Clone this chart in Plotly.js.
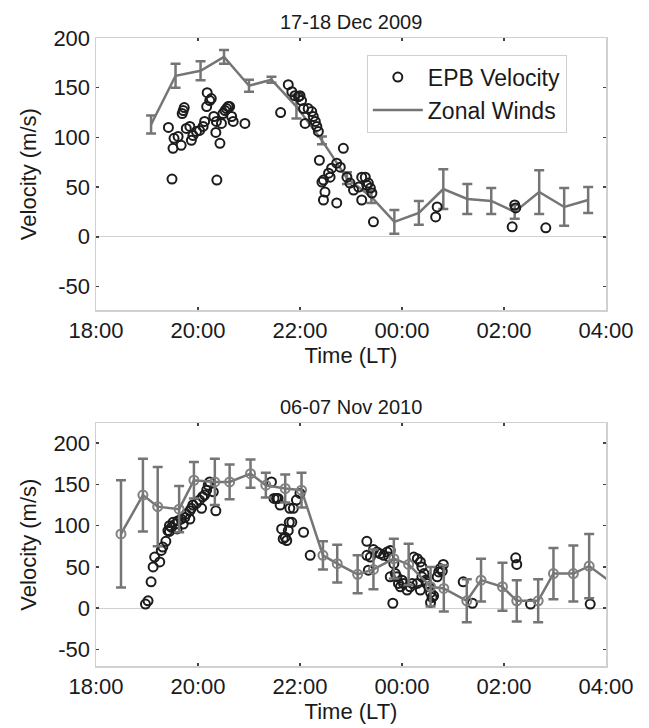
<!DOCTYPE html>
<html><head><meta charset="utf-8">
<script src="https://cdn.plot.ly/plotly-3.0.1.min.js"></script>
<style>html,body{margin:0;padding:0;background:#fff}#chart{width:649px;height:728px}</style>
</head><body><div id="chart"></div>
<script>
// Time in hours (24 = 00:00 next day)
const timeTickVals = [18, 20, 22, 24, 26, 28];
const timeTickText = ["18:00", "20:00", "22:00", "00:00", "02:00", "04:00"];
const velTickVals = [-50, 0, 50, 100, 150, 200];
const velTickText = ["-50", "0", "50", "100", "150", "200"];

// Panel 1: 17-18 Dec 2009
const windT1 = [19.08,19.56,20.05,20.51,21.00,21.44,21.93,22.43,22.92,23.40,23.85,24.33,24.81,25.28,25.75,26.21,26.69,27.18,27.65];
const windV1 = [113,162,167,181,152,158,131,97,59,40,15,24,48,38,36,25,45,30,37];
const windE1 = [9,12,9.5,7,6,3,12,4,6,6,12,12,20,15,13,7,22,19,13];

const epbT1 = [19.42,19.53,19.61,19.51,19.67,19.71,19.73,19.69,19.77,19.84,19.87,19.90,19.97,20.03,20.10,20.13,20.17,20.18,20.23,20.26,20.31,20.35,20.43,20.36,20.46,20.49,20.53,20.56,20.59,20.62,20.66,20.69,20.92,19.49,20.37,21.62,21.77,21.84,21.90,21.97,22.00,22.03,22.07,22.10,22.16,22.23,22.26,22.30,22.33,22.36,22.38,22.85,22.72,22.62,22.56,22.46,22.43,22.49,22.46,22.72,22.92,22.98,23.05,23.15,23.21,23.28,23.34,23.38,23.41,23.21,23.44,22.79,22.59,24.69,24.66,23.31,26.21,26.23,26.16,26.82];
const epbV1 = [110,99,101,89,92,127,130,124,109,111,97,102,106,107,111,116,131,145,137,139,121,105,94,116,114,124,127,129,131,131,121,116,114,58,57,125,153,146,142,141,142,137,129,114,129,126,121,116,111,106,77,89,74,69,64,57,55,45,37,34,60,54,47,50,60,60,54,49,44,37,15,70,60,30,20,52,32,29,10,9];

// Panel 2: 06-07 Nov 2010
const windT2 = [18.49,18.92,19.21,19.63,19.92,20.33,20.62,21.03,21.33,21.71,22.03,22.45,22.73,23.13,23.44,23.84,24.13,24.56,24.82,25.27,25.55,25.97,26.25,26.67,26.97,27.36,27.67,28.20];
const windV2 = [90,137,123,120,155,153,153,163,149,145,143,64,54,41,47,60,53,26,24,9,34,26,9,9,42,42,51,27];
const windE2 = [65,44,48,28,22,28,21,17,15,17,21,17,23,23,24,24,25,24,28,26,26,29,25,26,31,34,39,30];

const epbT2 = [18.97,19.02,19.08,19.12,19.15,19.25,19.28,19.31,19.37,19.41,19.44,19.51,19.56,19.48,19.61,19.67,19.74,19.77,19.84,19.87,19.90,19.97,20.03,20.09,20.13,20.17,20.20,20.23,20.30,20.35,20.07,19.84,19.71,19.59,19.44,21.44,21.49,21.54,21.61,21.64,21.67,21.74,21.79,21.80,21.57,21.71,21.77,21.84,21.87,21.93,22.00,22.07,22.20,23.31,23.31,23.34,23.38,23.44,23.51,23.57,23.64,23.71,23.74,23.77,23.84,23.87,23.90,23.93,23.97,24.00,24.03,24.10,24.16,24.20,24.23,24.30,24.36,24.39,24.43,24.46,24.49,24.53,24.56,24.59,24.56,24.62,24.69,24.72,24.75,24.81,23.82,24.30,24.36,24.39,23.77,24.79,25.20,25.38,26.23,26.25,26.52,27.69];
const epbV2 = [5,9,32,50,62,56,70,74,81,94,100,104,102,98,106,108,110,114,118,121,125,127,131,135,137,143,149,153,141,118,121,108,102,96,93,153,133,133,125,96,84,82,104,121,133,86,94,104,121,131,139,92,64,81,64,46,62,71,68,66,64,68,62,70,54,42,38,30,26,34,30,22,26,30,62,60,56,50,42,34,30,26,19,13,7,15,38,44,48,53,6,30,22,38,38,45,32,6,61,53,5,5];

const GRAY = '#757575';
const DARK = '#1c1c1c';

function errBar(arr) {
  return {type: 'data', array: arr, visible: true, color: GRAY, thickness: 2.5, width: 5};
}

const traces = [
  {x: windT1, y: windV1, xaxis: 'x', yaxis: 'y', type: 'scatter', mode: 'lines', name: 'Zonal Winds',
   line: {color: GRAY, width: 2.5}, error_y: errBar(windE1), legendrank: 2},
  {x: epbT1, y: epbV1, xaxis: 'x', yaxis: 'y', type: 'scatter', mode: 'markers', name: 'EPB Velocity',
   marker: {symbol: 'circle-open', size: 9, color: DARK, line: {width: 2}}, legendrank: 1},
  {x: epbT2, y: epbV2, xaxis: 'x2', yaxis: 'y2', type: 'scatter', mode: 'markers', showlegend: false,
   marker: {symbol: 'circle-open', size: 9, color: DARK, line: {width: 2}}},
  {x: windT2, y: windV2, xaxis: 'x2', yaxis: 'y2', type: 'scatter', mode: 'lines+markers', showlegend: false,
   line: {color: GRAY, width: 2.5}, marker: {symbol: 'circle-open', size: 9, color: '#808080', line: {width: 2}},
   error_y: errBar(windE2)}
];

const FAM = 'Liberation Sans, Arial, sans-serif';
const FONT = {family: FAM, size: 22, color: '#1a1a1a'};
function axis(extra) {
  return Object.assign({
    showline: true, linecolor: '#d0d0d0', linewidth: 1.5, mirror: 'ticks',
    ticks: 'inside', ticklen: 3, tickwidth: 1.5, tickcolor: '#444',
    showgrid: false, zeroline: false, tickfont: FONT
  }, extra);
}

const topDom = [0.5664, 1];
const botDom = [0, 0.3865];

const layout = {
  width: 649, height: 728,
  margin: {l: 96, r: 43, t: 38, b: 62},
  paper_bgcolor: '#fff', plot_bgcolor: '#fff',
  font: FONT,
  showlegend: true,
  legend: {x: 0.531, y: 0.9736, xanchor: 'left', yanchor: 'top', bgcolor: '#fff', itemwidth: 50,
           bordercolor: '#cfcfcf', borderwidth: 1, font: {family: FAM, size: 23, color: '#1a1a1a'}},
  xaxis: axis({domain: [0, 1], anchor: 'y', range: [18, 28], tickvals: timeTickVals, ticktext: timeTickText,
               title: {text: 'Time (LT)', font: FONT, standoff: 2}}),
  yaxis: axis({domain: topDom, anchor: 'x', range: [-74, 200], tickvals: velTickVals, ticktext: velTickText,
               zeroline: true, zerolinecolor: '#d0d0d0', zerolinewidth: 1,
               title: {text: 'Velocity (m/s)', font: FONT, standoff: 10}}),
  xaxis2: axis({domain: [0, 1], anchor: 'y2', range: [18, 28], tickvals: timeTickVals, ticktext: timeTickText,
                title: {text: 'Time (LT)', font: FONT, standoff: 2}}),
  yaxis2: axis({domain: botDom, anchor: 'x2', range: [-70, 224], tickvals: velTickVals, ticktext: velTickText,
                zeroline: true, zerolinecolor: '#d0d0d0', zerolinewidth: 1,
                title: {text: 'Velocity (m/s)', font: FONT, standoff: 10}}),
  annotations: [
    {text: '17-18 Dec 2009', xref: 'paper', yref: 'paper', x: 0.5, y: topDom[1], xanchor: 'center', yanchor: 'bottom',
     yshift: 3, showarrow: false, font: {family: FAM, size: 20, color: '#1a1a1a'}},
    {text: '06-07 Nov 2010', xref: 'paper', yref: 'paper', x: 0.5, y: botDom[1], xanchor: 'center', yanchor: 'bottom',
     yshift: 3, showarrow: false, font: {family: FAM, size: 20, color: '#1a1a1a'}}
  ]
};

Plotly.newPlot('chart', traces, layout, {displayModeBar: false, staticPlot: true});
</script></body></html>
